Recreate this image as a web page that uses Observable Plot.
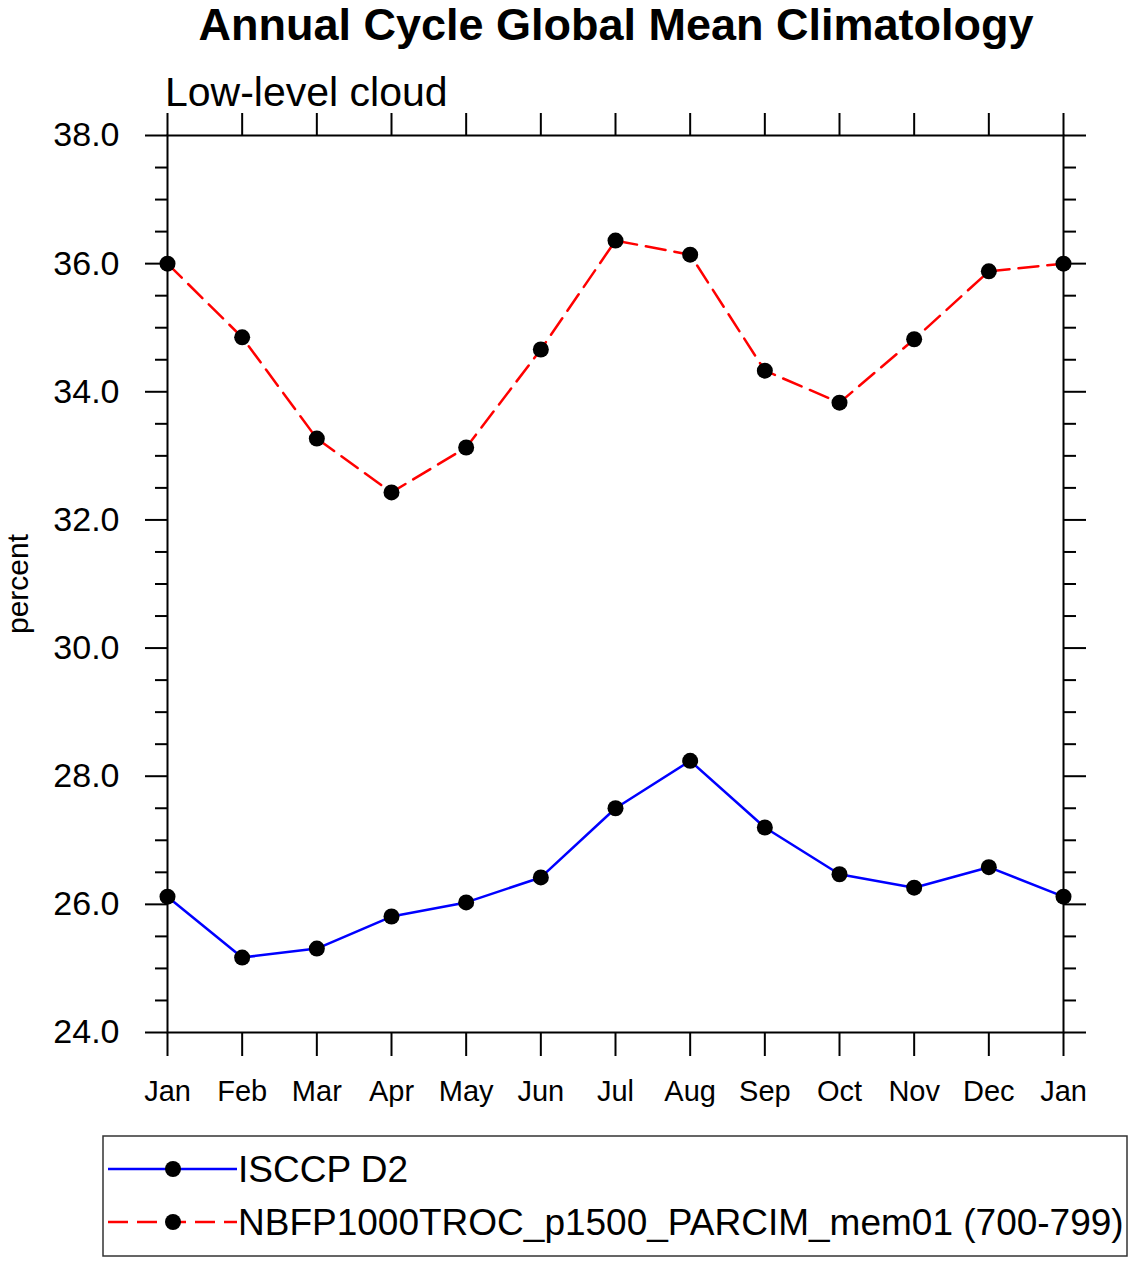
<!DOCTYPE html>
<html><head><meta charset="utf-8">
<script src="https://cdn.jsdelivr.net/npm/d3@7"></script>
<script src="https://cdn.jsdelivr.net/npm/@observablehq/plot@0.6"></script>
<style>body{margin:0;background:#fff}</style>
</head><body><div id="chart"></div>
<script>
const months = ["Jan","Feb","Mar","Apr","May","Jun","Jul","Aug","Sep","Oct","Nov","Dec","Jan"];
const isccp = [26.12, 25.17, 25.31, 25.81, 26.03, 26.42, 27.50, 28.24, 27.20, 26.47, 26.26, 26.58, 26.12];
const model = [36.00, 34.85, 33.27, 32.43, 33.13, 34.66, 36.36, 36.14, 34.33, 33.83, 34.82, 35.88, 36.00];
const seriesNames = ["ISCCP D2", "NBFP1000TROC_p1500_PARCIM_mem01 (700-799)"];
const seriesColors = ["blue", "red"];
const seriesDash = [null, "20,9"];
const yMajor = [24, 26, 28, 30, 32, 34, 36, 38];
const yMinor = [24.5, 25, 25.5, 26.5, 27, 27.5, 28.5, 29, 29.5, 30.5, 31, 31.5, 32.5, 33, 33.5, 34.5, 35, 35.5, 36.5, 37, 37.5];
const title = "Annual Cycle Global Mean Climatology";
const subtitle = "Low-level cloud";
const yLabel = "percent";

const seriesValues = [isccp, model];
const rows = [];
seriesValues.forEach((vals, s) => vals.forEach((v, i) => rows.push({series: s, month: i, value: v})));

const font = "'Liberation Sans', Arial, Helvetica, sans-serif";
const blank = () => "";

const plot = Plot.plot({
  width: 1134, height: 1262,
  marginTop: 135, marginBottom: 230, marginLeft: 167, marginRight: 71,
  style: {fontFamily: font, background: "#fff", color: "#000"},
  x: {type: "linear", domain: [0, 12]},
  y: {type: "linear", domain: [24, 38]},
  marks: [
    Plot.axisY(yMinor, {anchor: "left", tickSize: 12, tickFormat: blank, strokeWidth: 2, label: null}),
    Plot.axisY(yMinor, {anchor: "right", tickSize: 12, tickFormat: blank, strokeWidth: 2, label: null}),
    Plot.axisY(yMajor, {anchor: "left", tickSize: 22, tickPadding: 26, tickFormat: d => d.toFixed(1), fontSize: 34, strokeWidth: 2, label: null}),
    Plot.axisY(yMajor, {anchor: "right", tickSize: 22, tickFormat: blank, strokeWidth: 2, label: null}),
    Plot.axisX(d3.range(months.length), {anchor: "bottom", tickSize: 24, tickPadding: 24, tickFormat: i => months[i], fontSize: 29, strokeWidth: 2, label: null}),
    Plot.axisX(d3.range(months.length), {anchor: "top", tickSize: 23, tickFormat: blank, strokeWidth: 2, label: null}),
    Plot.frame({strokeWidth: 2, stroke: "#000"}),
    ...seriesValues.map((_, s) => Plot.line(rows.filter(d => d.series === s), {
      x: "month", y: "value", stroke: seriesColors[s], strokeWidth: 2.5,
      strokeDasharray: seriesDash[s] || undefined
    })),
    Plot.dot(rows, {x: "month", y: "value", r: 8, fill: "#000", stroke: null})
  ]
});

document.getElementById("chart").appendChild(plot);

const svg = d3.select(plot);
svg.append("text").attr("x", 616).attr("y", 40).attr("text-anchor", "middle")
  .style("font", `bold 45px ${font}`).attr("fill", "#000").text(title);
svg.append("text").attr("x", 165).attr("y", 106).attr("text-anchor", "start")
  .style("font", `41px ${font}`).attr("fill", "#000").text(subtitle);
svg.append("text").attr("transform", "translate(28,584) rotate(-90)").attr("text-anchor", "middle")
  .style("font", `30px ${font}`).attr("fill", "#000").text(yLabel);

const lg = svg.append("g");
lg.append("rect").attr("x", 103).attr("y", 1136).attr("width", 1024).attr("height", 120)
  .attr("fill", "none").attr("stroke", "#333").attr("stroke-width", 1.5);
seriesNames.forEach((name, i) => {
  const y = 1169 + i * 53;
  lg.append("line").attr("x1", 108).attr("x2", 237).attr("y1", y).attr("y2", y)
    .attr("stroke", seriesColors[i]).attr("stroke-width", 2.5)
    .attr("stroke-dasharray", seriesDash[i]);
  lg.append("circle").attr("cx", 173).attr("cy", y).attr("r", 8).attr("fill", "#000");
  lg.append("text").attr("x", 238).attr("y", y + 13).attr("text-anchor", "start")
    .style("font", `37px ${font}`).attr("fill", "#000").text(name);
});
</script>
</body></html>
